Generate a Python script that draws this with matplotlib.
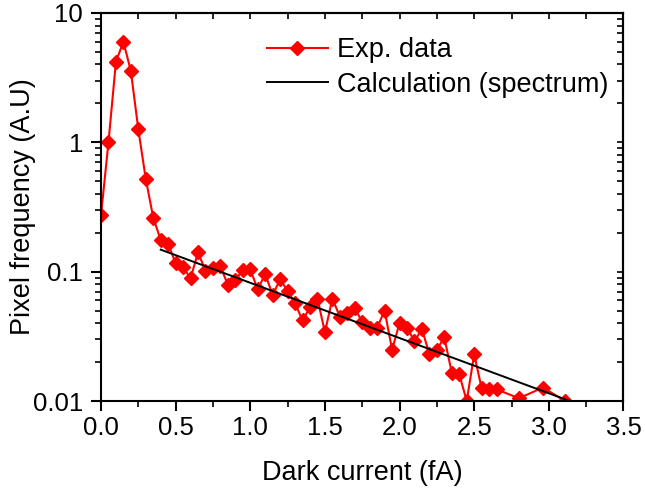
import matplotlib
matplotlib.use("Agg")
import matplotlib.pyplot as plt
from matplotlib.ticker import LogLocator, NullFormatter, MultipleLocator, FixedLocator, FixedFormatter

plt.rcParams["font.family"] = ["Liberation Sans", "DejaVu Sans"]

# experimental histogram (dark current in fA, pixel frequency in A.U.)
exp_x = [0.00, 0.05, 0.10, 0.15, 0.20, 0.25, 0.30, 0.35, 0.40, 0.45,
         0.50, 0.55, 0.60, 0.65, 0.70, 0.75, 0.80, 0.85, 0.90, 0.95,
         1.00, 1.05, 1.10, 1.15, 1.20, 1.25, 1.30, 1.35, 1.40, 1.45,
         1.50, 1.55, 1.60, 1.65, 1.70, 1.75, 1.80, 1.85, 1.90, 1.95,
         2.00, 2.05, 2.10, 2.15, 2.20, 2.25, 2.30, 2.35, 2.40, 2.45,
         2.50, 2.55, 2.60, 2.65, 2.80, 2.96, 3.11]
exp_y = [0.274, 1.0, 4.2, 6.0, 3.55, 1.26, 0.52, 0.262, 0.175, 0.164,
         0.116, 0.108, 0.089, 0.141, 0.102, 0.106, 0.110, 0.079, 0.086, 0.103,
         0.104, 0.073, 0.096, 0.066, 0.087, 0.071, 0.057, 0.042, 0.053, 0.062,
         0.034, 0.062, 0.045, 0.0475, 0.052, 0.041, 0.0364, 0.037, 0.050, 0.025,
         0.040, 0.037, 0.029, 0.036, 0.023, 0.025, 0.031, 0.0165, 0.0161, 0.0100,
         0.023, 0.0125, 0.0123, 0.0123, 0.0105, 0.0127, 0.0100]

# calculated spectrum (straight line on the log scale)
calc_x = [0.40, 3.15]
calc_y = [0.148, 0.0099]

xticks = [0.0, 0.5, 1.0, 1.5, 2.0, 2.5, 3.0, 3.5]
yticks = [0.01, 0.1, 1, 10]
ytick_labels = ["0.01", "0.1", "1", "10"]

fig = plt.figure(figsize=(6.45, 4.9), dpi=100)
ax = fig.add_axes([0.1566, 0.1816, 0.81, 0.7919])

ax.plot(exp_x, exp_y, color="red", lw=1.5, marker="D", ms=7,
        mec="red", mfc="red", label="Exp. data")
ax.plot(calc_x, calc_y, color="black", lw=1.4, label="Calculation (spectrum)")

ax.set_yscale("log")
ax.set_xlim(0, 3.5)
ax.set_ylim(0.01, 10)

ax.xaxis.set_major_locator(FixedLocator(xticks))
ax.xaxis.set_major_formatter(FixedFormatter([f"{t:.1f}" for t in xticks]))
ax.xaxis.set_minor_locator(MultipleLocator(0.25))
ax.yaxis.set_major_locator(FixedLocator(yticks))
ax.yaxis.set_major_formatter(FixedFormatter(ytick_labels))
ax.yaxis.set_minor_locator(LogLocator(base=10, subs=range(2, 10)))
ax.yaxis.set_minor_formatter(NullFormatter())

for s in ax.spines.values():
    s.set_linewidth(1.5)

ax.tick_params(axis="both", which="major", labelsize=18.5, width=1.5, length=7,
               direction="out")
ax.tick_params(axis="x", which="major", pad=4)
ax.tick_params(axis="y", which="major", pad=6)
ax.tick_params(axis="both", which="minor", width=1.2, length=4, direction="out")
ax.tick_params(axis="x", which="both", top=False)
ax.tick_params(axis="y", which="both", right=False)

# mirrored ticks on top/right point inwards (Origin style)
ax2 = ax.secondary_xaxis("top")
ax2.xaxis.set_major_locator(MultipleLocator(0.25))
ax2.tick_params(direction="in", length=4, width=1.2)
ax2.set_xticklabels([])
ax3 = ax.secondary_yaxis("right")
ax3.yaxis.set_major_locator(FixedLocator(yticks))
ax3.yaxis.set_minor_locator(LogLocator(base=10, subs=range(2, 10)))
ax3.yaxis.set_minor_formatter(NullFormatter())
ax3.tick_params(which="both", direction="in", length=4, width=1.2)
ax3.set_yticklabels([])
for sax in (ax2, ax3):
    for s in sax.spines.values():
        s.set_linewidth(1.5)

ax.set_xlabel("Dark current (fA)", fontsize=19.5, labelpad=14)
ax.set_ylabel("Pixel frequency (A.U)", fontsize=19.5, labelpad=-2.5)

leg = ax.legend(loc="upper left", bbox_to_anchor=(0.317, 0.937), frameon=False,
                fontsize=19.5, numpoints=1, handlelength=2.26, handletextpad=0.33,
                labelspacing=0.3, borderpad=0, borderaxespad=0, markerscale=0.95)

fig.savefig("out.png", dpi=100)
